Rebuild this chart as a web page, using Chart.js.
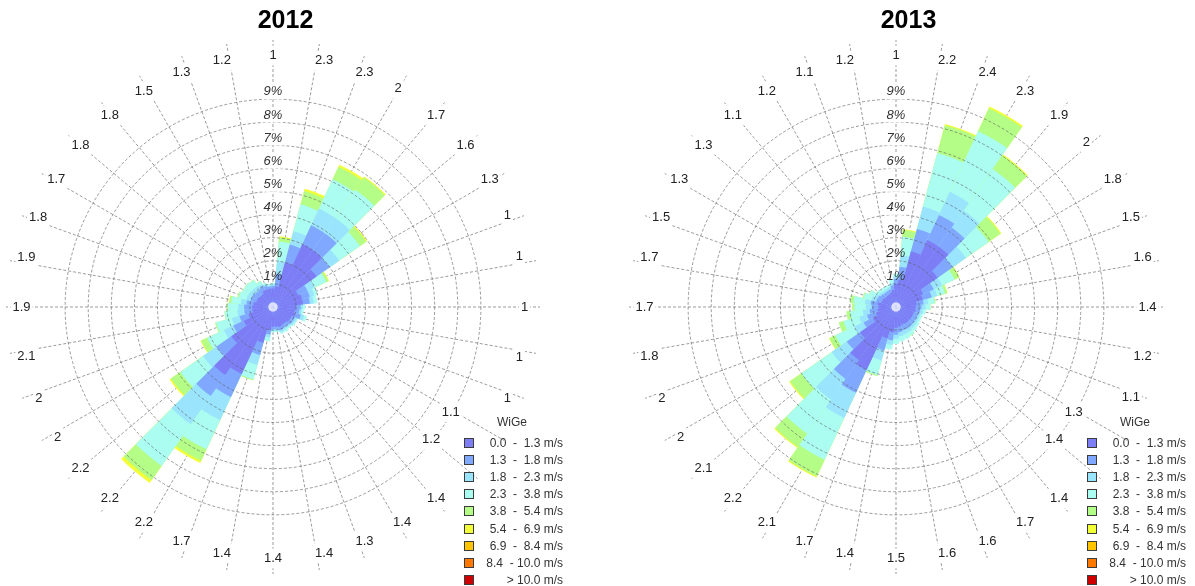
<!DOCTYPE html>
<html>
<head>
<meta charset="utf-8">
<script src="https://cdn.jsdelivr.net/npm/chart.js@4.4.0/dist/chart.umd.min.js"></script>
<style>
  html, body { margin:0; padding:0; background:#fff; width:1195px; height:586px; overflow:hidden; }
  body { position:relative; font-family:"Liberation Sans", Arial, sans-serif; }
  canvas { position:absolute; }
  #c2012 { left:-2px; top:-1px; }
  #c2013 { left:621px; top:-1px; }
  .lg { position:absolute; width:110px; height:180px; font-size:12px; color:#333; }
  .lg .ttl { position:absolute; left:0; width:96px; text-align:center; top:0; line-height:16px; }
  .lg .row { position:absolute; left:0; width:99px; height:17px; line-height:17px; }
  .lg .sw { position:absolute; left:0; top:3px; width:10px; height:10px; box-sizing:border-box; border:1.5px solid #3c3c3c; }
  .lg .tx { position:absolute; right:0; top:0; white-space:pre; text-align:right; }
</style>
</head>
<body>
<canvas id="c2012" width="575" height="583"></canvas>
<canvas id="c2013" width="575" height="583"></canvas>
<div class="lg" id="lg2012" style="left:464px; top:414px;"></div>
<div class="lg" id="lg2013" style="left:1087px; top:414px;"></div>
<script>
// ---- speed classes (legend) ----
const classLabels = ['0.0  -  1.3 m/s','1.3  -  1.8 m/s','1.8  -  2.3 m/s','2.3  -  3.8 m/s','3.8  -  5.4 m/s','5.4  -  6.9 m/s','6.9  -  8.4 m/s','8.4  - 10.0 m/s','> 10.0 m/s'];
const classColors = ['#7d7df5','#80a8ff','#9ae4fd','#aafdf0','#b4fd86','#f2ff36','#ffc400','#ff7800','#d00000'];
const legendTitle = 'WiGe';

// ---- ring ticks (percent of time) ----
const ringTicks = [1,2,3,4,5,6,7,8,9];

// ---- 36 direction sectors, N clockwise; labels = mean wind speed per sector ----
const meanSpeed2012 = ['1','2.3','2.3','2','1.7','1.6','1.3','1','1','1','1','1','1.1','1.2','1.4','1.4','1.3','1.4','1.4','1.4','1.7','2.2','2.2','2.2','2','2','2.1','1.9','1.9','1.8','1.7','1.8','1.8','1.5','1.3','1.2'];
const meanSpeed2013 = ['1','2.2','2.4','2.3','1.9','2','1.8','1.5','1.6','1.4','1.2','1.1','1.3','1.4','1.4','1.7','1.6','1.6','1.5','1.4','1.7','2.1','2.2','2.1','2','2','1.8','1.7','1.7','1.5','1.3','1.3','1.1','1.2','1.1','1.2'];

// ---- 2012 frequency (%) per speed class ----
const f2012_00_13 = [0.8,0.9,2.0,3.0,3.0,2.3,1.2,1.3,1.3,1.0,0.95,1.0,0.9,0.9,0.85,0.85,0.9,0.85,0.85,1.0,1.6,3.2,3.6,2.2,1.4,1.1,0.9,0.9,0.85,0.75,0.75,0.7,0.7,0.8,0.8,0.8];
const f2012_13_18 = [0.12,0.55,0.8,0.9,0.9,0.7,0.45,0.35,0.3,0.2,0.2,0.25,0.15,0.15,0.15,0.15,0.15,0.12,0.12,0.2,0.55,1.1,1.1,0.8,0.5,0.4,0.35,0.35,0.3,0.25,0.25,0.25,0.25,0.2,0.15,0.1];
const f2012_18_23 = [0.07,0.55,0.6,0.8,0.8,0.5,0.35,0.2,0.17,0.1,0.1,0.15,0.1,0.08,0.08,0.1,0.08,0.07,0.07,0.13,0.45,1.1,1.5,0.7,0.45,0.35,0.3,0.25,0.25,0.2,0.18,0.2,0.18,0.1,0.08,0.05];
const f2012_23_38 = [0.06,0.85,1.2,1.4,1.5,1.1,0.55,0.15,0.15,0.09,0.09,0.12,0.05,0.07,0.07,0.1,0.07,0.06,0.06,0.17,0.65,1.4,2.2,1.2,0.8,0.7,0.55,0.45,0.42,0.35,0.3,0.33,0.3,0.13,0.07,0.05];
const f2012_38_54 = [0,0.17,0.6,0.6,0.65,0.33,0.1,0,0,0,0,0,0,0,0,0,0,0,0,0,0.05,0.55,0.75,0.5,0.28,0.05,0.02,0.05,0.08,0.05,0.02,0.02,0.02,0.02,0,0];
const f2012_54_69 = [0,0.05,0.1,0.1,0.05,0.05,0.03,0,0,0,0,0,0,0,0,0,0,0,0,0,0,0.1,0.15,0.07,0.03,0,0,0,0.02,0,0,0,0,0,0,0];
const f2012_69_84 = new Array(36).fill(0);
const f2012_84_100 = new Array(36).fill(0);
const f2012_gt100 = new Array(36).fill(0);

// ---- 2013 frequency (%) per speed class ----
const f2013_00_13 = [1.0,1.2,2.5,3.2,3.2,2.2,1.3,1.2,0.9,0.85,0.85,0.8,0.8,0.8,0.8,0.8,0.8,0.85,0.9,1.1,1.4,3.0,2.8,1.9,1.1,0.9,0.8,0.75,0.8,0.65,0.65,0.6,0.6,0.6,0.65,0.75];
const f2013_13_18 = [0.22,0.55,1.0,1.2,1.0,0.8,0.5,0.4,0.3,0.25,0.2,0.2,0.2,0.2,0.22,0.25,0.25,0.25,0.3,0.35,0.55,1.1,1.0,0.7,0.45,0.4,0.35,0.3,0.3,0.25,0.22,0.2,0.17,0.17,0.15,0.2];
const f2013_18_23 = [0.12,0.5,1.0,1.1,0.9,0.7,0.4,0.25,0.2,0.18,0.12,0.1,0.1,0.12,0.13,0.15,0.18,0.18,0.18,0.2,0.45,1.2,1.1,0.8,0.45,0.35,0.3,0.25,0.25,0.2,0.15,0.1,0.1,0.1,0.1,0.12];
const f2013_23_38 = [0.11,0.8,2.4,2.9,2.2,1.2,0.6,0.35,0.28,0.2,0.13,0.1,0.1,0.13,0.15,0.18,0.22,0.22,0.22,0.2,0.65,2.0,1.8,1.6,0.9,0.7,0.55,0.5,0.5,0.35,0.26,0.15,0.13,0.13,0.1,0.13];
const f2013_38_54 = [0,0.3,1.25,1.1,0.72,0.62,0.22,0.1,0.04,0.02,0,0,0,0,0,0.02,0,0,0,0,0.05,0.8,0.7,0.6,0.28,0.22,0.16,0.1,0.15,0.05,0.02,0,0,0,0,0];
const f2013_54_69 = [0,0.03,0.05,0.08,0.05,0.05,0.02,0.01,0,0,0,0,0,0,0,0,0,0,0,0,0,0.05,0.05,0.05,0.02,0,0,0,0,0,0,0,0,0,0,0];
const f2013_69_84 = new Array(36).fill(0);
const f2013_84_100 = new Array(36).fill(0);
const f2013_gt100 = new Array(36).fill(0);

const calmDot = 0.2;          // white calm circle at the centre (in %)
const pulledLabels = [12, 13]; // sector labels drawn closer to the centre (next to the legend)

// ---- scale geometry ----
const PCT_MAX = 11.56;        // value at the outer end of the direction lines
const TICK_SHIFT = 0.316;     // ring labels sit just outside their ring
const LINE_COLOR = 'rgba(95,95,95,0.62)';

Chart.defaults.font.family = '"Liberation Sans", Arial, sans-serif';
Chart.defaults.color = '#222';

function buildDatasets(classes) {
  const n = classes[0].length;
  const ds = [{
    label: 'calm', data: new Array(n).fill(calmDot),
    backgroundColor: '#ffffff', borderWidth: 0, rAxisID: 'r'
  }];
  let cum = new Array(n).fill(0);
  classes.forEach((arr, k) => {
    cum = cum.map((c, i) => c + arr[i]);
    ds.push({
      label: classLabels[k],
      data: cum.map((v, i) => arr[i] > 0 ? +v.toFixed(3) : 0),
      backgroundColor: classColors[k],
      borderWidth: 0,
      rAxisID: 'r'
    });
  });
  return ds;
}

function labelPadding(ctx) {
  const i = ctx.index;
  const lbl = String(ctx.label);
  const digits = lbl.replace(/[^0-9]/g, '').length;
  const dots = lbl.replace(/[^.]/g, '').length;
  const w = digits * 7.23 + dots * 3.61;
  const h = 15.6;
  const th = i * 10 * Math.PI / 180;
  const vertical = (i % 18 === 0);
  const horizontal = (i % 18 === 9);
  const off = (vertical ? 0 : (w / 2) * Math.abs(Math.sin(th))) + (horizontal ? 0 : (h / 2) * Math.abs(Math.cos(th)));
  const centre = pulledLabels.includes(i) ? 199 : 244;
  const R = ctx.scale ? ctx.scale.drawingArea : 267;
  return centre - off - R;
}

const hiddenTicks = {
  display: true, font: { size: 13 }, backdropPadding: 1,
  color: 'rgba(0,0,0,0)', showLabelBackdrop: false, callback: () => ''
};

function makeChart(canvasId, title, labels, classes) {
  return new Chart(document.getElementById(canvasId), {
    type: 'polarArea',
    data: { labels: labels, datasets: buildDatasets(classes) },
    options: {
      responsive: false,
      animation: false,
      devicePixelRatio: 1,
      layout: { padding: 0 },
      plugins: {
        // empty legend box on the right: keeps the title slightly right of the rose centre
        legend: {
          display: true, position: 'right', fullSize: false, maxWidth: 25,
          labels: { padding: 15, generateLabels: () => [] }
        },
        tooltip: { enabled: false },
        title: {
          display: true, text: title, color: '#000',
          font: { size: 25, weight: 'bold', lineHeight: 1 },
          padding: { top: 10, bottom: -2 }
        }
      },
      scales: {
        // data scale: sectors centred on the direction lines, dashed rings 1..9 %
        r: {
          type: 'radialLinear', axis: 'r',
          min: 0, max: PCT_MAX, startAngle: -5,
          angleLines: { display: false },
          pointLabels: { display: false },
          grid: {
            display: true, circular: true, z: 1,
            color: LINE_COLOR,
            lineWidth: (c) => (c.tick && ringTicks.includes(c.tick.value)) ? 1 : 0
          },
          border: { dash: [3, 2] },
          ticks: Object.assign({ stepSize: 1 }, hiddenTicks)
        },
        // direction lines
        r2: {
          type: 'radialLinear', axis: 'r',
          min: 0, max: PCT_MAX, startAngle: 0,
          grid: { display: false },
          pointLabels: { display: false },
          angleLines: { display: true, color: LINE_COLOR, lineWidth: 1, borderDash: [3, 2] },
          ticks: Object.assign({ stepSize: 1 }, hiddenTicks)
        },
        // sector labels + ring labels
        r3: {
          type: 'radialLinear', axis: 'r',
          min: -TICK_SHIFT, max: PCT_MAX - TICK_SHIFT, startAngle: 0,
          grid: { display: false, z: 1 },
          angleLines: { display: false },
          pointLabels: {
            display: true, centerPointLabels: false,
            font: { size: 13 }, color: '#222',
            padding: labelPadding,
            backdropColor: '#ffffff', backdropPadding: 2
          },
          ticks: {
            display: true, z: 1, stepSize: 1,
            font: { size: 13, style: 'italic' }, color: '#333',
            backdropPadding: 1, showLabelBackdrop: true,
            backdropColor: (c) => (c.tick && c.tick.value >= 4 && ringTicks.includes(c.tick.value)) ? '#ffffff' : 'rgba(0,0,0,0)',
            callback: (v) => ringTicks.includes(v) ? v + '%' : ''
          }
        }
      }
    }
  });
}

makeChart('c2012', '2012', meanSpeed2012,
  [f2012_00_13, f2012_13_18, f2012_18_23, f2012_23_38, f2012_38_54, f2012_54_69, f2012_69_84, f2012_84_100, f2012_gt100]);
makeChart('c2013', '2013', meanSpeed2013,
  [f2013_00_13, f2013_13_18, f2013_18_23, f2013_23_38, f2013_38_54, f2013_54_69, f2013_69_84, f2013_84_100, f2013_gt100]);

function buildLegend(id) {
  const el = document.getElementById(id);
  const t = document.createElement('div');
  t.className = 'ttl'; t.textContent = legendTitle; el.appendChild(t);
  classLabels.forEach((lab, k) => {
    const row = document.createElement('div');
    row.className = 'row';
    row.style.top = (20.5 + k * 17.2) + 'px';
    const sw = document.createElement('div');
    sw.className = 'sw'; sw.style.background = classColors[k];
    const tx = document.createElement('div');
    tx.className = 'tx'; tx.textContent = lab;
    row.appendChild(sw); row.appendChild(tx);
    el.appendChild(row);
  });
}
buildLegend('lg2012');
buildLegend('lg2013');
</script>
</body>
</html>
